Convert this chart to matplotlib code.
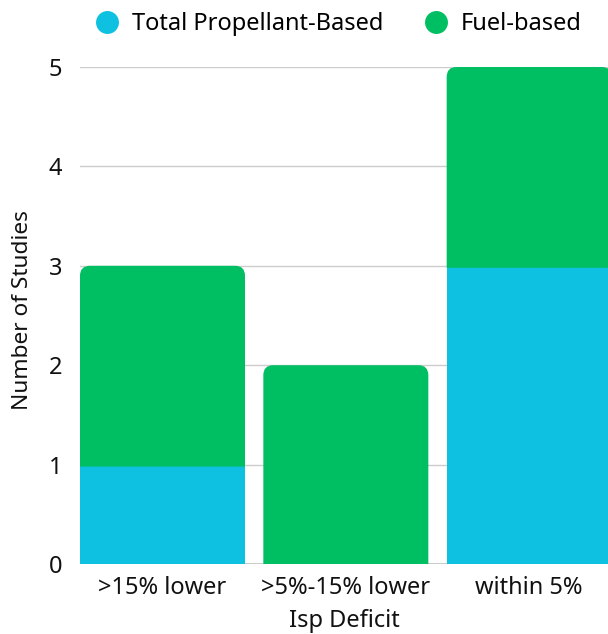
import matplotlib
matplotlib.use("Agg")
import matplotlib.pyplot as plt
from matplotlib.patches import PathPatch
from matplotlib.path import Path
from matplotlib.lines import Line2D
import numpy as np

categories = [">15% lower", ">5%-15% lower", "within 5%"]
total_propellant = [1, 0, 3]
fuel_based = [2, 2, 2]
series_names = ["Total Propellant-Based", "Fuel-based"]
y_ticks = [0, 1, 2, 3, 4, 5]

blue = "#0EC1E0"
green = "#00BF63"

plt.rcParams["font.family"] = ["Noto Sans", "DejaVu Sans"]

fig = plt.figure(figsize=(6.08, 6.34), dpi=100)
ax_left, ax_bottom, ax_w_px, ax_h_px = 80, 70, 528, 497
ax = fig.add_axes([ax_left / 608, ax_bottom / 634, ax_w_px / 608, ax_h_px / 634])

x = np.arange(len(categories))
width = 0.9
x_lo, x_hi = -0.45, 2.43

ax.set_xlim(x_lo, x_hi)
ax.set_ylim(0, 5)

# corner radius of the stacked bar tops, in pixels converted to data units
r_px = 10
rx = r_px * (x_hi - x_lo) / ax_w_px
ry = r_px * 5 / ax_h_px
seam = 0.02  # slight overlap so no hairline shows between stacked segments


def top_rounded_bar(x0, x1, y0, y1):
    verts = [
        (x0, y0), (x0, y1 - ry),
        (x0, y1), (x0 + rx, y1),
        (x1 - rx, y1),
        (x1, y1), (x1, y1 - ry),
        (x1, y0), (x0, y0),
    ]
    codes = [
        Path.MOVETO, Path.LINETO,
        Path.CURVE3, Path.CURVE3,
        Path.LINETO,
        Path.CURVE3, Path.CURVE3,
        Path.LINETO, Path.CLOSEPOLY,
    ]
    return Path(verts, codes)


ax.bar(x, total_propellant, width=width, color=blue, zorder=3, linewidth=0)
for xi, b, f in zip(x, total_propellant, fuel_based):
    path = top_rounded_bar(xi - width / 2, xi + width / 2, b - seam, b + f)
    ax.add_patch(PathPatch(path, facecolor=green, edgecolor="none", zorder=3))

ax.set_yticks(y_ticks)
ax.grid(axis="y", color="#cccccc", linewidth=1, zorder=0)
ax.set_axisbelow(True)
for s in ax.spines.values():
    s.set_visible(False)
ax.axhline(0, color="#c4c4c4", linewidth=1.2, zorder=1)

ax.set_xticks(x)
ax.set_xticklabels(categories)
ax.tick_params(axis="both", length=0, labelsize=17, colors="#111111")
ax.tick_params(axis="y", labelsize=17, pad=13)
ax.tick_params(axis="x", pad=9)
ax.set_xlabel("Isp Deficit", fontsize=17, color="#111111", labelpad=6)
ax.set_ylabel("Number of Studies", fontsize=16.3, color="#111111")
ax.yaxis.set_label_coords(-0.089, 0.511)

handles = [Line2D([0], [0], marker="o", linestyle="none", markersize=16.5,
                  markerfacecolor=c, markeredgecolor="none") for c in (blue, green)]
fig.legend(handles, series_names, loc="upper center", bbox_to_anchor=(0.547, 1.0),
           ncol=2, frameon=False, fontsize=17, handletextpad=0.05,
           columnspacing=1.26, borderaxespad=0.1)

fig.savefig("out.png", dpi=100)
